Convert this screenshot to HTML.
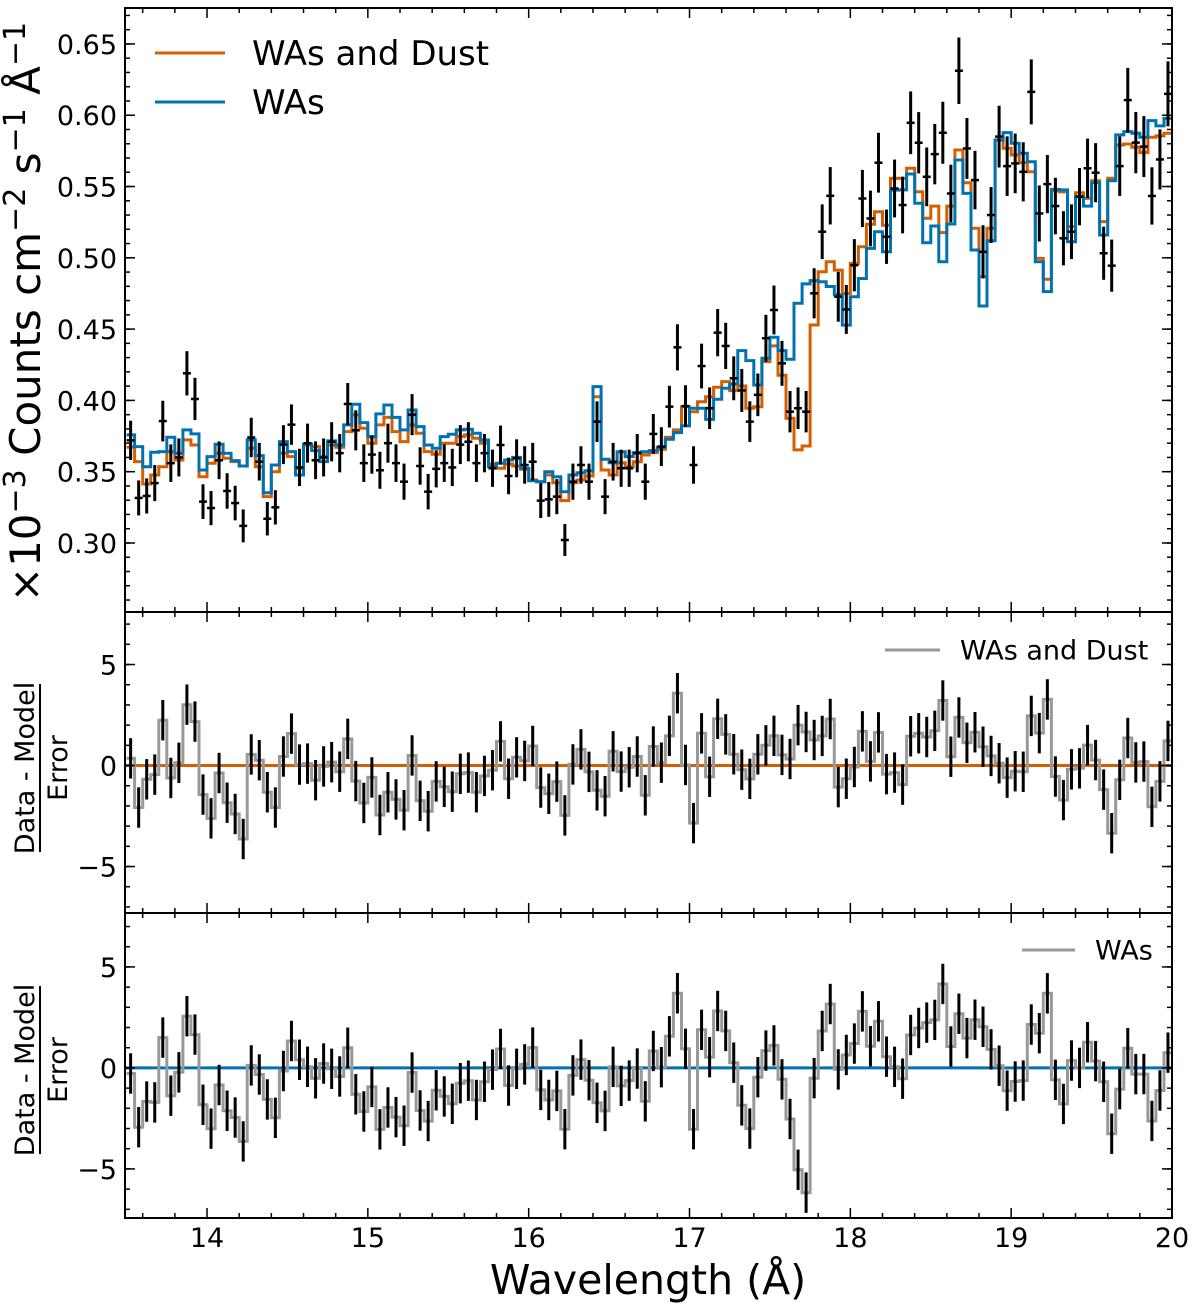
<!DOCTYPE html>
<html><head><meta charset="utf-8"><style>
body{margin:0;background:#fff}
svg{display:block;font-family:"DejaVu Sans","Liberation Sans",sans-serif}
</style></head><body>
<svg id="c" width="1200" height="1314" viewBox="0 0 1200 1314" xmlns="http://www.w3.org/2000/svg"></svg>
<script>
const wlStart = 13.5;
const binWidth = 0.05;
const dataFlux = [0.372,0.3316,0.333,0.342,0.3855,0.356,0.36,0.419,0.401,0.329,0.3245,0.358,0.3365,0.328,0.312,0.374,0.357,0.317,0.325,0.369,0.383,0.353,0.370,0.358,0.36,0.371,0.363,0.3975,0.379,0.356,0.362,0.351,0.370,0.356,0.343,0.39,0.354,0.336,0.352,0.356,0.353,0.369,0.371,0.356,0.363,
0.3524,0.3687,0.347,0.3594,0.3547,0.357,0.3297,0.3306,0.3325,0.3021,0.343,0.3547,0.343,0.3851,0.3325,0.357,0.3524,0.3524,0.363,0.343,0.3765,0.3676,0.3956,0.4372,0.396,0.3547,0.4241,0.3945,0.4475,0.4382,0.4155,0.407,0.3851,0.4039,0.4436,0.4634,0.426,0.3921,0.3945,0.3921,0.4751,
0.5183,0.5435,0.4727,0.4638,0.4948,0.5416,0.5276,0.5667,0.5148,0.5486,0.537,0.5947,0.5807,0.5568,0.5727,0.5877,0.5451,0.6312,0.5767,0.5545,0.5042,0.53,0.585,0.5643,0.5662,0.5603,0.6164,0.5311,0.5517,0.5363,0.5137,0.5183,0.5429,0.5628,0.5597,0.5032,0.4945,0.5643,0.6106,0.5808,0.578,0.5434,0.569,0.615];
const modelDust = [0.3671,0.3571,0.3414,0.3477,0.3535,0.3641,0.3582,0.3723,0.3687,0.3465,0.3559,0.3629,0.3594,0.3571,0.354,0.3664,0.3535,0.3325,0.35,0.3629,0.3606,0.3524,0.3687,0.3676,0.3606,0.3687,0.3671,0.3781,0.3898,0.3804,0.3699,0.3828,0.3881,0.3781,0.3711,0.3828,0.3769,0.3641,0.3622,0.3699,0.3699,0.3746,0.3758,0.3734,0.3699,
0.3554,0.3524,0.3554,0.354,0.3517,0.3442,0.343,0.3477,0.3423,0.3297,0.3423,0.3442,0.347,0.4026,0.3512,0.3477,0.3563,0.3535,0.357,0.3617,0.3634,0.3657,0.3741,0.3793,0.3956,0.3921,0.3991,0.4026,0.4092,0.4132,0.4069,0.4101,0.3945,0.3956,0.4272,0.4382,0.4177,0.3874,0.3653,0.368,0.4529,
0.4902,0.4972,0.4914,0.475,0.4961,0.5077,0.5236,0.5323,0.5229,0.5557,0.5558,0.5628,0.5464,0.5277,0.5363,0.5177,0.5363,0.5756,0.5527,0.5207,0.4868,0.5207,0.5826,0.5768,0.5721,0.5667,0.5604,0.4996,0.4849,0.5471,0.5462,0.5219,0.5457,0.5417,0.5541,0.5254,0.5558,0.5791,0.5798,0.5775,0.5738,0.5845,0.5855,0.5873];
const modelWAs = [0.3758,0.3676,0.3535,0.3636,0.3641,0.3741,0.3629,0.3793,0.3765,0.3512,0.3606,0.3692,0.3629,0.3578,0.354,0.3723,0.3613,0.3353,0.3547,0.3711,0.3641,0.3477,0.3692,0.3648,0.3571,0.3716,0.3687,0.3828,0.3973,0.3844,0.3746,0.3905,0.3968,0.3881,0.3793,0.3933,0.3816,0.3687,0.3664,0.3746,0.3762,0.3793,0.3797,0.3769,0.3722,
0.3535,0.3559,0.3582,0.36,0.3524,0.3437,0.343,0.35,0.3465,0.336,0.3477,0.3493,0.3507,0.4097,0.3587,0.3563,0.364,0.3606,0.3634,0.364,0.3648,0.3671,0.3727,0.3774,0.3821,0.3945,0.3945,0.3867,0.4008,0.4085,0.4115,0.4349,0.4279,0.4108,0.4295,0.4443,0.4349,0.4288,0.4681,0.4817,0.484,
0.4832,0.4799,0.474,0.4528,0.4727,0.4855,0.5066,0.5183,0.5042,0.5475,0.5476,0.5588,0.5382,0.5106,0.5223,0.4973,0.5237,0.5686,0.5452,0.5055,0.4662,0.512,0.5826,0.5878,0.5803,0.5733,0.5674,0.4973,0.4763,0.548,0.5476,0.5113,0.5429,0.5363,0.5527,0.516,0.5541,0.5862,0.5885,0.5874,0.5845,0.5962,0.5925,0.5978];
const errFrac = 0.037;
const xTicks = [14,15,16,17,18,19,20];
const fluxTicks = [0.30,0.35,0.40,0.45,0.50,0.55,0.60,0.65];
const residTicks = [-5,0,5];

const NS="http://www.w3.org/2000/svg";
const svg=document.getElementById('c');
function mk(tag,attrs,parent){const e=document.createElementNS(NS,tag);for(const k in attrs)e.setAttribute(k,attrs[k]);(parent||svg).appendChild(e);return e;}
const X0=126.6,X1=1172, L=125, R=1172;
function xs(w){return X0+(w-13.5)*(X1-X0)/6.5;}
const P1={top:8,bot:612,min:0.2516,max:0.6752};
const P2={top:612,bot:913,min:-7.3,max:7.6};
const P3={top:913,bot:1218,min:-7.43,max:7.67};
function ys(p,v){return p.bot-(v-p.min)/(p.max-p.min)*(p.bot-p.top);}
const n=dataFlux.length;

function stepPath(p,vals){let d='';for(let i=0;i<vals.length;i++){const a=xs(wlStart+i*binWidth),b=xs(wlStart+(i+1)*binWidth),y=ys(p,vals[i]);d+=(i?'L':'M')+a.toFixed(1)+','+y.toFixed(1)+'L'+b.toFixed(1)+','+y.toFixed(1);}return d;}

function axes(p,ticks,fmt,minorStep,name){
  const g=mk('g',{});
  
  
  for(let w=13.6;w<=20.001;w+=0.2){const x=xs(w);const major=Math.abs(w-Math.round(w))<0.01;const l=major?10:5;
    mk('line',{x1:x,x2:x,y1:p.bot,y2:p.bot-l,stroke:'#000','stroke-width':1.5},g);
    mk('line',{x1:x,x2:x,y1:p.top,y2:p.top+l,stroke:'#000','stroke-width':1.5},g);}
  for(let v=Math.ceil(p.min/minorStep)*minorStep;v<=p.max;v+=minorStep){const y=ys(p,v);
    mk('line',{x1:L,x2:L+5,y1:y,y2:y,stroke:'#000','stroke-width':1.5},g);
    mk('line',{x1:R,x2:R-5,y1:y,y2:y,stroke:'#000','stroke-width':1.5},g);}
  ticks.forEach(v=>{const y=ys(p,v);
    mk('line',{x1:L,x2:L+10,y1:y,y2:y,stroke:'#000','stroke-width':1.5},g);
    mk('line',{x1:R,x2:R-10,y1:y,y2:y,stroke:'#000','stroke-width':1.5},g);
    const t=mk('text',{x:L-8,y:y+10,'text-anchor':'end','font-size':27},g);t.textContent=fmt(v);
    
    });
  mk('rect',{x:L,y:p.top,width:R-L,height:p.bot-p.top,fill:'none',stroke:'#000','stroke-width':2},g);
}

const dust=mk('path',{d:stepPath(P1,modelDust),fill:'none',stroke:'#d55e00','stroke-width':3});


const was=mk('path',{d:stepPath(P1,modelWAs),fill:'none',stroke:'#0072b2','stroke-width':3});


const gd=mk('g',{});


for(let i=0;i<n;i++){const w=wlStart+(i+0.5)*binWidth,x=xs(w),v=dataFlux[i],e=v*errFrac;
  mk('line',{x1:x,x2:x,y1:ys(P1,v-e),y2:ys(P1,v+e),stroke:'#000','stroke-width':3},gd);
  mk('line',{x1:x-4,x2:x+4,y1:ys(P1,v),y2:ys(P1,v),stroke:'#000','stroke-width':2.5},gd);}
axes(P1,fluxTicks,v=>v.toFixed(2),0.01,'flux');

function resid(p,model,color,name){
  const vals=dataFlux.map((v,i)=>(v-model[i])/(v*errFrac));
  const z=mk('line',{x1:L,x2:R,y1:ys(p,0),y2:ys(p,0),stroke:color,'stroke-width':3});
  
  
  const s=mk('path',{d:stepPath(p,vals),fill:'none',stroke:'#999','stroke-width':3});
  
  
  const g=mk('g',{});
  
  
  vals.forEach((r,i)=>{const x=xs(wlStart+(i+0.5)*binWidth);
    mk('line',{x1:x,x2:x,y1:ys(p,r-1),y2:ys(p,r+1),stroke:'#000','stroke-width':3},g);});
  axes(p,residTicks,v=>v<0?'\u2212'+(-v):String(v),1,name);
}
resid(P2,modelDust,'#d55e00','dust');
resid(P3,modelWAs,'#0072b2','was');

xTicks.forEach(w=>{const t=mk('text',{x:xs(w),y:1247,'text-anchor':'middle','font-size':27});t.textContent=w;
  
  });
const xl=mk('text',{x:648,y:1294,'text-anchor':'middle','font-size':41});xl.textContent='Wavelength (Å)';



const yt=mk('text',{transform:'translate(40,312) rotate(-90)','text-anchor':'middle','font-size':42});
yt.innerHTML='×10<tspan dy="-15" font-size="30">−3</tspan><tspan dy="15"> Counts cm</tspan><tspan dy="-15" font-size="30">−2</tspan><tspan dy="15"> s</tspan><tspan dy="-15" font-size="30">−1</tspan><tspan dy="15"> Å</tspan><tspan dy="-15" font-size="30">−1</tspan>';



function fracLabel(cy,name){const g=mk('g',{transform:`translate(40,${cy}) rotate(-90)`});
  
  
  const a=mk('text',{x:0,y:-6,'text-anchor':'middle','font-size':27},g);a.textContent='Data - Model';
  mk('line',{x1:-84,x2:84,y1:0,y2:0,stroke:'#000','stroke-width':2},g);
  const b=mk('text',{x:0,y:27,'text-anchor':'middle','font-size':27},g);b.textContent='Error';}
fracLabel(768,'residual-dust-y-title');
fracLabel(1070,'residual-was-y-title');

function legend(x1,x2,y,color,txt,tx,fs,name,sw){
  const g=mk('g',{});
  
  
  mk('line',{x1:x1,x2:x2,y1:y,y2:y,stroke:color,'stroke-width':sw},g);
  const t=mk('text',{x:tx,y:y+fs*0.36,'font-size':fs},g);t.textContent=txt;}
legend(155,225,53,'#d55e00','WAs and Dust',252,34,'legend-was-and-dust',3);
legend(155,225,102,'#0072b2','WAs',252,34,'legend-was',3);
legend(885,940,650,'#999','WAs and Dust',960,27,'legend-residual-dust',3);
legend(1022,1075,950,'#999','WAs',1095,27,'legend-residual-was',3);
</script>
</body></html>
